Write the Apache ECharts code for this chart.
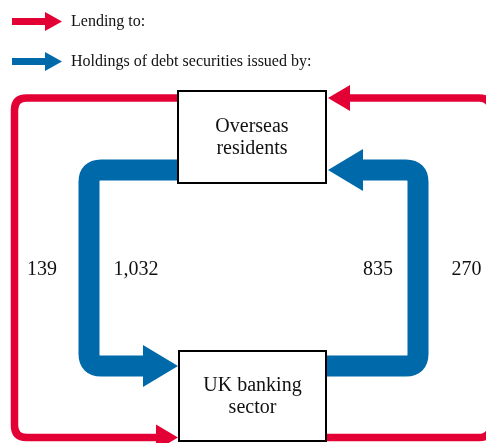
<!DOCTYPE html>
<html>
<head>
<meta charset="utf-8">
<script src="https://cdn.jsdelivr.net/npm/echarts@6/dist/echarts.min.js"></script>
<style>
html, body { margin: 0; padding: 0; background: #fff; }
#main { width: 486px; height: 443px; }
</style>
</head>
<body>
<div id="main"></div>
<script>
// sectors (boxes) and the two kinds of flow between them
var nodeNames = ['Overseas\nresidents', 'UK banking\nsector'];
var flowKinds = ['Lending to:', 'Holdings of debt securities issued by:'];
// index 0 = overseas residents -> UK banking sector (left), 1 = UK -> overseas (right)
var lendingValues = [139, 270];
var holdingValues = [1032, 835];

var RED = '#e30034';
var BLUE = '#0069aa';
var FONT = '"Liberation Serif", "Times New Roman", serif';

// layout of the diagram, in pixels of the 486x443 plot
var boxes = [
    { x0: 178, y0: 91, x1: 326, y1: 183 },   // overseas residents
    { x0: 179, y0: 351, x1: 326, y1: 441 }   // UK banking sector
];
var lanes = {
    lending: { y: [98, 437.5], x: [14.5, 491], width: 7.5, head: 13, headLen: 22, radius: 12, labelDx: [27.5, -24.5] },
    holding: { y: [170, 366], x: [89, 418], width: 21, head: 21, headLen: 35, radius: 12, labelDx: [47, -40] }
};
var labelY = 270;

function route(lane, side) {
    // side 0: leaves the top box to the left and comes into the bottom box
    // side 1: leaves the bottom box to the right and comes into the top box
    var top = lane.y[0], bot = lane.y[1], x = lane.x[side];
    if (side === 0) {
        return { pts: [[boxes[0].x0, top], [x, top], [x, bot], [boxes[1].x0 - lane.headLen + 1, bot]],
                 tip: [boxes[1].x0 - 1, bot], dir: 1 };
    }
    return { pts: [[boxes[1].x1, bot], [x, bot], [x, top], [boxes[0].x1 + lane.headLen - 1, top]],
             tip: [boxes[0].x1 + 2, top], dir: -1 };
}

function roundedPath(pts, r) {
    var d = 'M' + pts[0][0] + ',' + pts[0][1];
    for (var i = 1; i < pts.length - 1; i++) {
        var p = pts[i], a = pts[i - 1], b = pts[i + 1];
        var da = Math.hypot(a[0] - p[0], a[1] - p[1]);
        var db = Math.hypot(b[0] - p[0], b[1] - p[1]);
        var s = [p[0] + (a[0] - p[0]) * r / da, p[1] + (a[1] - p[1]) * r / da];
        var e = [p[0] + (b[0] - p[0]) * r / db, p[1] + (b[1] - p[1]) * r / db];
        d += ' L' + s[0] + ',' + s[1] + ' Q' + p[0] + ',' + p[1] + ' ' + e[0] + ',' + e[1];
    }
    var last = pts[pts.length - 1];
    return d + ' L' + last[0] + ',' + last[1];
}

function flowRenderer(lane) {
    return function (params, api) {
        var side = api.value(0);
        var amount = api.value(1);
        var color = api.visual('color');
        var rt = route(lane, side);
        var pts = rt.pts.map(function (p) { return api.coord(p); });
        var tip = api.coord(rt.tip);
        var back = tip[0] - rt.dir * lane.headLen;
        var lx = api.coord([lane.x[side] + lane.labelDx[side], labelY]);
        return {
            type: 'group',
            children: [
                {
                    type: 'path',
                    shape: { pathData: roundedPath(pts, lane.radius) },
                    style: { fill: null, stroke: color, lineWidth: lane.width, lineCap: 'butt', lineJoin: 'round' }
                },
                {
                    type: 'polygon',
                    shape: { points: [[back, tip[1] - lane.head], tip, [back, tip[1] + lane.head]] },
                    style: { fill: color }
                },
                {
                    type: 'text',
                    style: {
                        text: amount.toLocaleString('en-US'), x: lx[0], y: lx[1],
                        align: 'center', verticalAlign: 'middle',
                        fontSize: 20, fontFamily: FONT, fill: '#111'
                    }
                }
            ]
        };
    };
}

var arrowIcon = 'path://M0,6 L33,6 L33,0 L50,9.5 L33,19 L33,13 L0,13 Z';

var chart = echarts.init(document.getElementById('main'), null, { renderer: 'canvas' });
var option = {
    animation: false,
    backgroundColor: '#fff',
    grid: { left: 0, right: 0, top: 0, bottom: 0 },
    xAxis: { type: 'value', min: 0, max: 486, show: false },
    yAxis: { type: 'value', min: 0, max: 443, inverse: true, show: false },
    legend: {
        data: flowKinds.map(function (k) { return { name: k, icon: arrowIcon }; }),
        orient: 'vertical',
        left: 12,
        top: 12,
        padding: 0,
        itemWidth: 50,
        itemHeight: 19,
        itemGap: 21,
        selectedMode: false,
        textStyle: { fontSize: 16, fontFamily: FONT, color: '#111', padding: [2, 0, 0, 4] }
    },
    series: [
        {
            name: flowKinds[0],
            type: 'custom',
            coordinateSystem: 'cartesian2d',
            itemStyle: { color: RED },
            z: 2,
            renderItem: flowRenderer(lanes.lending),
            data: lendingValues.map(function (v, i) { return [i, v]; })
        },
        {
            name: flowKinds[1],
            type: 'custom',
            coordinateSystem: 'cartesian2d',
            itemStyle: { color: BLUE },
            z: 2,
            renderItem: flowRenderer(lanes.holding),
            data: holdingValues.map(function (v, i) { return [i, v]; })
        },
        {
            name: 'sectors',
            type: 'custom',
            coordinateSystem: 'cartesian2d',
            z: 3,
            renderItem: function (params, api) {
                var b = boxes[params.dataIndex];
                var p0 = api.coord([b.x0, b.y0]);
                var p1 = api.coord([b.x1, b.y1]);
                return {
                    type: 'group',
                    children: [
                        {
                            type: 'rect',
                            shape: { x: p0[0], y: p0[1], width: p1[0] - p0[0], height: p1[1] - p0[1] },
                            style: { fill: '#fff', stroke: '#000', lineWidth: 2 }
                        },
                        {
                            type: 'text',
                            style: {
                                text: nodeNames[params.dataIndex],
                                x: (p0[0] + p1[0]) / 2, y: (p0[1] + p1[1]) / 2 + 1,
                                align: 'center', verticalAlign: 'middle',
                                fontSize: 20, lineHeight: 22, fontFamily: FONT, fill: '#111'
                            }
                        }
                    ]
                };
            },
            data: nodeNames.map(function (n, i) { return [i, 0]; })
        }
    ]
};
chart.setOption(option);
</script>
</body>
</html>
